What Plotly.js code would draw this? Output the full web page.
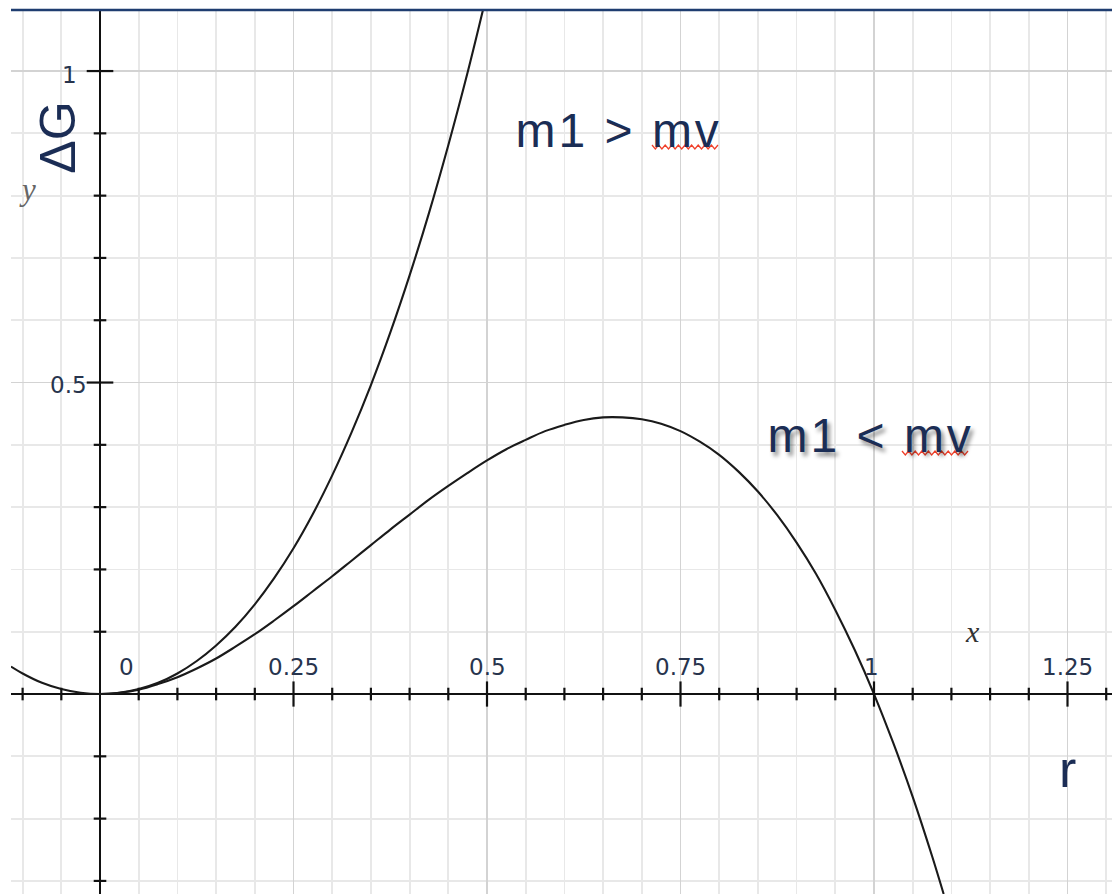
<!DOCTYPE html>
<html>
<head>
<meta charset="utf-8">
<script src="https://cdn.plot.ly/plotly-3.0.1.min.js"></script>
<style>
  html, body { margin: 0; padding: 0; background: #fff; }
  #chart { width: 1112px; height: 894px; }
  .annotation[data-index="0"] text, .annotation[data-index="1"] text { letter-spacing: 3px; }
</style>
</head>
<body>
<div id="chart"></div>
<script>
// ΔG(r) for the case m1 < mv (rises, peaks, crosses zero at r = 1)
const rLow = [-0.115, -0.1, -0.075, -0.05, -0.025, 0, 0.025, 0.05, 0.075, 0.1, 0.125, 0.15, 0.175, 0.2,
              0.225, 0.25, 0.275, 0.3, 0.325, 0.35, 0.375, 0.4, 0.425, 0.45, 0.475, 0.5, 0.525, 0.55, 0.575,
              0.6, 0.625, 0.65, 0.675, 0.7, 0.725, 0.75, 0.775, 0.8, 0.825, 0.85, 0.875, 0.9, 0.925, 0.95,
              0.975, 1.0, 1.025, 1.05, 1.075, 1.09];
const gLow = [0.044, 0.033, 0.018, 0.008, 0.002, 0, 0.002, 0.007, 0.016, 0.027, 0.041, 0.057, 0.076, 0.096,
              0.118, 0.141, 0.165, 0.189, 0.214, 0.239, 0.264, 0.288, 0.312, 0.334, 0.355, 0.375, 0.393, 0.408, 0.422,
              0.432, 0.440, 0.444, 0.444, 0.441, 0.434, 0.422, 0.405, 0.384, 0.357, 0.325, 0.287, 0.243, 0.193, 0.135,
              0.071, 0, -0.079, -0.165, -0.260, -0.321];

// ΔG(r) for the case m1 > mv (keeps rising)
const rHigh = [0, 0.025, 0.05, 0.075, 0.1, 0.125, 0.15, 0.175, 0.2, 0.225, 0.25, 0.275, 0.3, 0.325, 0.35,
               0.375, 0.4, 0.425, 0.45, 0.475, 0.5];
const gHigh = [0, 0.002, 0.008, 0.018, 0.033, 0.053, 0.078, 0.108, 0.144, 0.186, 0.234, 0.289, 0.351, 0.420, 0.496,
               0.580, 0.672, 0.772, 0.881, 0.998, 1.125];

// axis tick marks drawn on the crossing axes
const xMinorTicks = [-0.1, -0.05, 0.05, 0.1, 0.15, 0.2, 0.3, 0.35, 0.4, 0.45, 0.55, 0.6, 0.65, 0.7,
                     0.8, 0.85, 0.9, 0.95, 1.05, 1.1, 1.15, 1.2, 1.3];
const xMajorTicks = [0.25, 0.5, 0.75, 1, 1.25];
const yMinorTicks = [-0.3, -0.2, -0.1, 0.1, 0.2, 0.3, 0.4, 0.6, 0.7, 0.8, 0.9];
const yMajorTicks = [0.5, 1];

// tick labels
const xLabelVals = [0, 0.25, 0.5, 0.75, 1, 1.25];
const xLabelText = ['0', '0.25', '0.5', '0.75', '1', '1.25'];
const yLabelVals = [1, 0.5];
const yLabelText = ['1', '0.5'];

const curveLine = { color: '#1a1a1a', width: 2.1, shape: 'spline', smoothing: 1 };
const tickMark = { color: '#111', width: 2.2 };

const traces = [
  { x: rLow, y: gLow, mode: 'lines', line: curveLine, hoverinfo: 'skip' },
  { x: rHigh, y: gHigh, mode: 'lines', line: curveLine, hoverinfo: 'skip' },
  { x: xMinorTicks, y: xMinorTicks.map(() => 0), mode: 'markers', hoverinfo: 'skip',
    marker: { symbol: 'line-ns', size: 9, line: tickMark } },
  { x: xMajorTicks, y: xMajorTicks.map(() => 0), mode: 'markers', hoverinfo: 'skip',
    marker: { symbol: 'line-ns', size: 18, line: tickMark } },
  { x: yMinorTicks.map(() => 0), y: yMinorTicks, mode: 'markers', hoverinfo: 'skip',
    marker: { symbol: 'line-ew', size: 9, line: tickMark } },
  { x: yMajorTicks.map(() => 0), y: yMajorTicks, mode: 'markers', hoverinfo: 'skip',
    marker: { symbol: 'line-ew', size: 19, line: tickMark } }
];

const sans = 'Liberation Sans, Arial, sans-serif';
const serif = 'Liberation Serif, Times New Roman, serif';
const tickFont = { family: 'DejaVu Sans, Verdana, sans-serif', size: 23, color: '#27344d' };
const navy = '#1b2d55';

const annotations = [
  { text: 'm1 > mv', x: 0.548, y: 0.905, xref: 'x', yref: 'y', xanchor: 'left', yanchor: 'middle', showarrow: false,
    font: { family: sans, size: 48, color: navy } },
  { text: 'm1 < mv', x: 0.873, y: 0.415, xref: 'x', yref: 'y', xanchor: 'left', yanchor: 'middle', showarrow: false,
    font: { family: sans, size: 48, color: navy, shadow: '3px 4px 4px rgba(0,0,0,0.45)' } },
  { text: 'ΔG', x: 0, y: 0.893, xref: 'x', yref: 'y', xanchor: 'center', yanchor: 'middle', xshift: -42, showarrow: false,
    textangle: -90, font: { family: sans, size: 50, color: navy } },
  { text: 'r', x: 1.25, y: -0.12, xref: 'x', yref: 'y', xanchor: 'center', yanchor: 'middle', showarrow: false,
    font: { family: sans, size: 52, color: navy } },
  { text: '<i>y</i>', x: 0, y: 0.81, xref: 'x', yref: 'y', xanchor: 'center', yanchor: 'middle', xshift: -73, showarrow: false,
    font: { family: serif, size: 31, color: '#666' } },
  { text: '<i>x</i>', x: 1.127, y: 0.1, xref: 'x', yref: 'y', xanchor: 'center', yanchor: 'middle', showarrow: false,
    font: { family: serif, size: 30, color: '#333' } }
];

xLabelVals.forEach((v, i) => {
  annotations.push({ text: xLabelText[i], x: v, y: 0, xref: 'x', yref: 'y', xanchor: 'center', yanchor: 'bottom',
    yshift: 12, xshift: v === 0 ? 26 : (v === 1 ? -3 : 0), showarrow: false, font: tickFont });
});
yLabelVals.forEach((v, i) => {
  annotations.push({ text: yLabelText[i], x: 0, y: v, xref: 'x', yref: 'y', xanchor: 'right', yanchor: 'middle',
    xshift: v === 1 ? -21 : -11, yshift: v === 1 ? -4 : -2, showarrow: false, font: tickFont });
});

// red wavy spell-check underline, built from a start/end position in pixels
const W = 1112, H = 894, mL = 11, mT = 10;
function wavy(x0, x1, yPix) {
  const step = 3.3, amp = 2;
  let d = '';
  let k = 0;
  for (let px = x0; px <= x1 + 0.01; px += step, k++) {
    const py = yPix + (k % 2 ? amp : -amp);
    const xp = (px - mL) / (W - mL);
    const yp = (H - py) / (H - mT);
    d += (k === 0 ? 'M' : 'L') + xp.toFixed(5) + ',' + yp.toFixed(5);
  }
  return { type: 'path', xref: 'paper', yref: 'paper', path: d, line: { color: '#f0402a', width: 1.3 }, layer: 'above' };
}

const layout = {
  width: W, height: H,
  margin: { l: mL, r: 0, t: mT, b: 0, pad: 0 },
  paper_bgcolor: '#fff', plot_bgcolor: '#fff',
  showlegend: false,
  xaxis: {
    range: [-0.115, 1.3075], dtick: 0.25, tick0: 0, showticklabels: false, ticks: '',
    showgrid: true, gridcolor: '#d3d3d3', gridwidth: 1.8,
    minor: { dtick: 0.05, tick0: 0, showgrid: true, gridcolor: '#e8e8e8', gridwidth: 1.8 },
    zeroline: true, zerolinecolor: '#111', zerolinewidth: 2.8, showline: false, fixedrange: true
  },
  yaxis: {
    range: [-0.321, 1.098], dtick: 0.5, tick0: 0, showticklabels: false, ticks: '',
    showgrid: true, gridcolor: '#d3d3d3', gridwidth: 1.8,
    minor: { dtick: 0.1, tick0: 0, showgrid: true, gridcolor: '#e8e8e8', gridwidth: 1.8 },
    zeroline: true, zerolinecolor: '#111', zerolinewidth: 2.8, showline: false, fixedrange: true
  },
  shapes: [
    { type: 'line', xref: 'paper', yref: 'paper', x0: 0, x1: 1, y0: 1, y1: 1,
      line: { color: '#1f3d70', width: 2.5 }, layer: 'above' },
    wavy(652, 718, 147),
    wavy(902, 970, 453)
  ],
  annotations: annotations
};

Plotly.newPlot('chart', traces, layout, { displayModeBar: false, staticPlot: true });
</script>
</body>
</html>
